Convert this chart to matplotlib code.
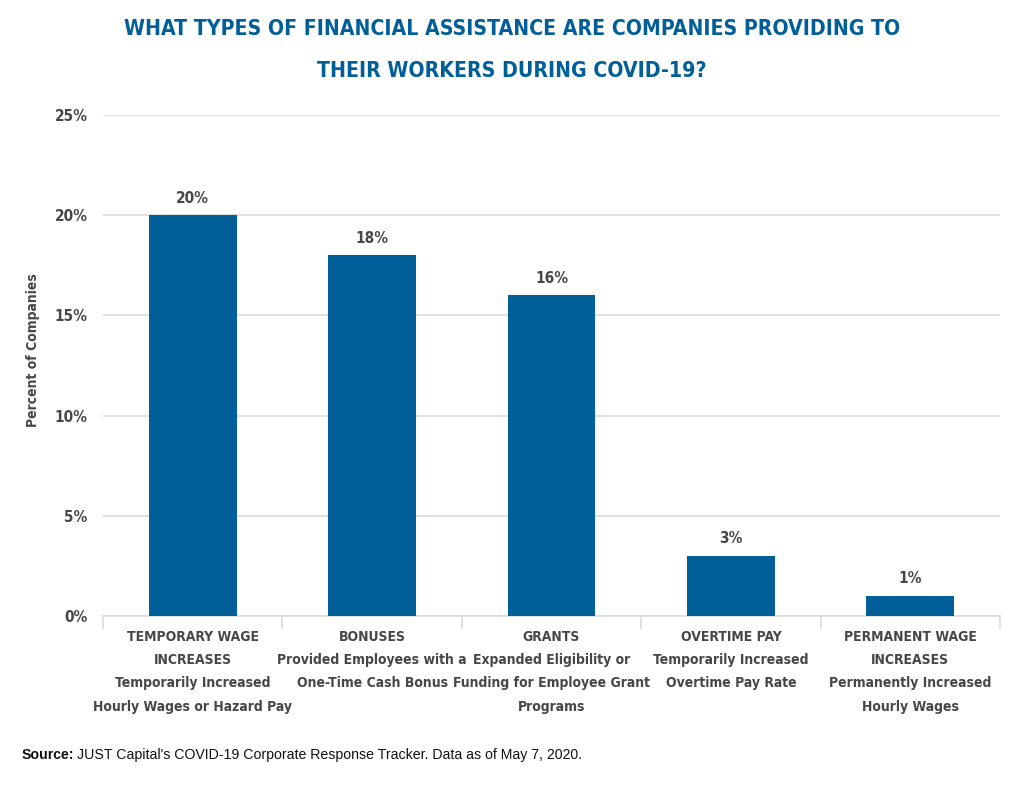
import matplotlib
matplotlib.use('Agg')
import matplotlib.pyplot as plt
from matplotlib import font_manager as fm
import numpy as np

categories = [
    'TEMPORARY WAGE\nINCREASES\nTemporarily Increased\nHourly Wages or Hazard Pay',
    'BONUSES\nProvided Employees with a\nOne-Time Cash Bonus',
    'GRANTS\nExpanded Eligibility or\nFunding for Employee Grant\nPrograms',
    'OVERTIME PAY\nTemporarily Increased\nOvertime Pay Rate',
    'PERMANENT WAGE\nINCREASES\nPermanently Increased\nHourly Wages',
]
values = [20, 18, 16, 3, 1]
yticks = [0, 5, 10, 15, 20, 25]

blue = '#005f99'
grey = '#474747'

# look for a condensed bold face, the reference uses a narrow display font
cond = None
for f in fm.fontManager.ttflist:
    narrow = ('Narrow' in f.name or 'Condensed' in f.name
              or f.stretch in ('condensed', 'semi-condensed', 'extra-condensed'))
    bold = f.weight in ('bold', 700, 600, 'semibold', 'demibold') or 'Bold' in f.fname
    if narrow and bold:
        cond = fm.FontProperties(fname=f.fname)
        break
if cond is None:
    cond = fm.FontProperties(family='DejaVu Sans', weight='bold', stretch='condensed')
    scale = 0.8
else:
    scale = 1.0

def fp(size):
    p = cond.copy()
    p.set_size(size * scale)
    return p

fig = plt.figure(figsize=(10.24, 7.86), dpi=100)
ax = fig.add_axes([0.1006, 0.2163, 0.876, 0.6374])

x = np.arange(len(values))
ax.bar(x, values, width=0.49, color=blue, zorder=3)
for xi, v in zip(x, values):
    ax.text(xi, v + 0.85, f'{v}%', ha='center', va='center',
            fontproperties=fp(11), color=grey)

ax.set_xlim(-0.5, len(values) - 0.5)
ax.set_ylim(0, 25)
ax.set_yticks(yticks)
ax.set_yticklabels([f'{t}%' for t in yticks], fontproperties=fp(11), color=grey)
ax.yaxis.grid(True, color='#dcdcdc', linewidth=1.2, zorder=0)
ax.tick_params(axis='y', length=0, pad=11)

ax.set_xticks(x)
ax.set_xticklabels(categories, fontproperties=fp(10), color=grey, linespacing=1.84)
ax.tick_params(axis='x', length=0, pad=10)
ax.set_xticks(np.arange(-0.5, len(values)), minor=True)
ax.tick_params(axis='x', which='minor', length=9, color='#dcdcdc', width=1.2)

for s in ['top', 'right', 'left']:
    ax.spines[s].set_visible(False)
ax.spines['bottom'].set_color('#dcdcdc')
ax.spines['bottom'].set_linewidth(1.2)

ax.set_ylabel('Percent of Companies', fontproperties=fp(10), color=grey)
ax.yaxis.set_label_coords(-0.07, 0.531)

fig.text(0.5, 1 - 29 / 786, 'WHAT TYPES OF FINANCIAL ASSISTANCE ARE COMPANIES PROVIDING TO',
         ha='center', va='center', fontproperties=fp(15.2), color=blue)
fig.text(0.5, 1 - 71 / 786, 'THEIR WORKERS DURING COVID-19?',
         ha='center', va='center', fontproperties=fp(15.2), color=blue)

src = fig.text(0.021, 1 - 755 / 786, 'Source:', fontsize=10.2, fontweight='bold', color='#111111',
               ha='left', va='center', family=['Liberation Sans', 'DejaVu Sans'])
fig.canvas.draw()
bb = src.get_window_extent()
fig.text((bb.x1 + 3) / fig.bbox.width, 1 - 755 / 786,
         "JUST Capital's COVID-19 Corporate Response Tracker. Data as of May 7, 2020.",
         fontsize=10.2, color='#111111', ha='left', va='center',
         family=['Liberation Sans', 'DejaVu Sans'])

fig.savefig('out.png', dpi=100)
